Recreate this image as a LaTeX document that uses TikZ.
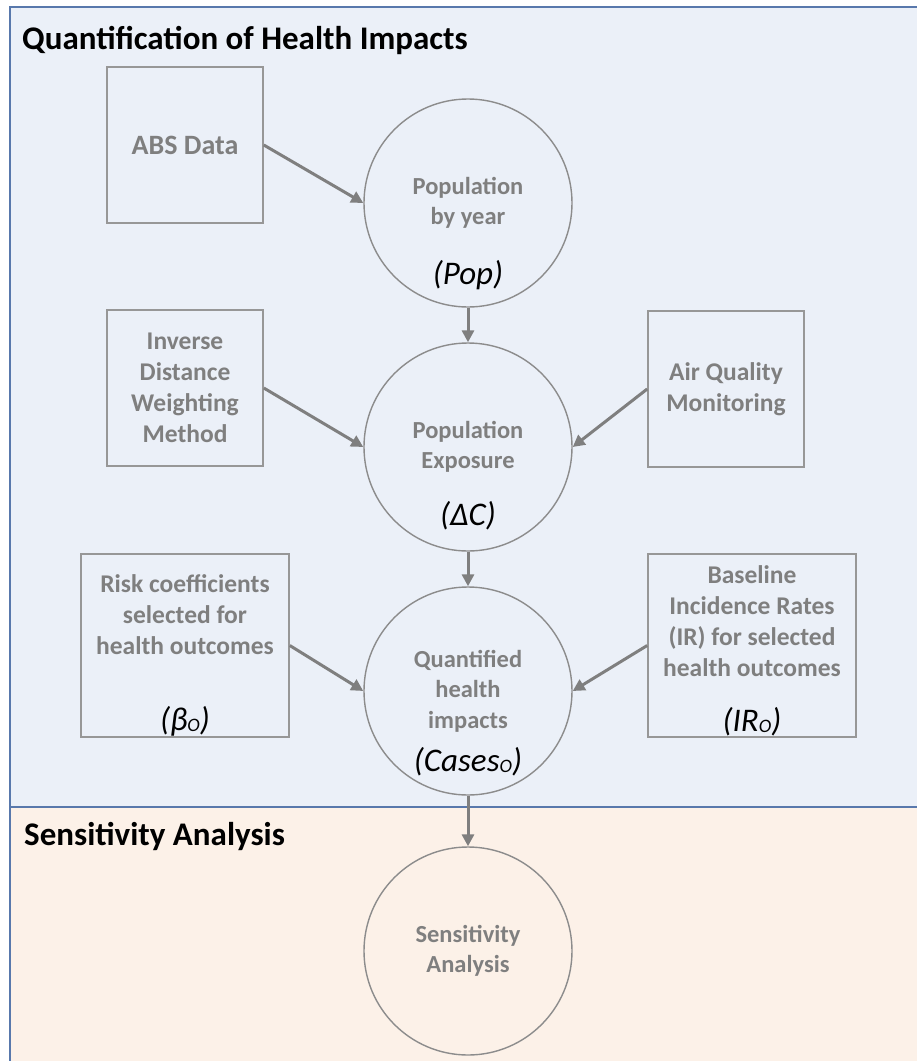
\documentclass[tikz,border=0pt]{standalone}
\usepackage{fontspec}
\setmainfont{Carlito}
\usetikzlibrary{arrows.meta}
\definecolor{panelblue}{HTML}{EBF0F8}
\definecolor{panelpeach}{HTML}{FCF1E8}
\definecolor{frameblue}{HTML}{5878AC}
\definecolor{shapegray}{HTML}{8C8C8C}
\definecolor{textgray}{HTML}{7F7F7F}
\begin{document}
\begin{tikzpicture}[x=1pt,y=-1pt,
  nodetext/.style={text=textgray, font=\bfseries\fontsize{24.5}{30.5}\selectfont, align=center, inner sep=0pt},
  box/.style={nodetext, font=\bfseries\fontsize{25.5}{31}\selectfont, draw=shapegray!90, line width=1.6pt, minimum width=156pt, minimum height=156pt},
  widebox/.style={box, minimum width=208pt, minimum height=183pt},
  bubble/.style={nodetext, circle, draw=shapegray, line width=1.4pt, minimum size=208pt},
  varlabel/.style={text=black, font=\itshape\fontsize{33}{38}\selectfont, inner sep=0pt},
  paneltitle/.style={text=black, font=\bfseries\fontsize{33}{40}\selectfont, inner sep=0pt, anchor=base west},
  flow/.style={draw=textgray, line width=3pt, -{Triangle[length=12pt,width=12pt]}}
]
\useasboundingbox (0,0) rectangle (917,1061);
% panels
\fill[panelblue] (10,7) rectangle (930,807);
\fill[panelpeach] (10,807) rectangle (930,1070);
\draw[frameblue, line width=2pt] (930,7) -- (10,7) -- (10,1070);
\draw[frameblue, line width=2.5pt] (10,807) -- (930,807);
% titles
\node[paneltitle] (t1) at (22,49) {Quantification of Health Impacts};
\node[paneltitle] (t2) at (24,845) {Sensitivity Analysis};
% nodes
\node[box, font=\bfseries\fontsize{28}{34}\selectfont] (abs) at (185,145) {ABS Data};
\node[bubble] (pop) at (468,203) {Population\\by year};
\node[varlabel] (popl) at (468,275) {(Pop)};
\node[box] (idw) at (185,388) {Inverse\\Distance\\Weighting\\Method};
\node[box] (aqm) at (726,389) {Air Quality\\Monitoring};
\node[bubble] (exp) at (468,447) {Population\\Exposure};
\node[varlabel] (expl) at (468,516) {(ΔC)};
\node[widebox] (risk) at (185,645.5) {Risk coefficients\\selected for\\health outcomes\\[30pt]\mbox{}};
\node[widebox] (base) at (752,645.5) {Baseline\\Incidence Rates\\(IR) for selected\\health outcomes\\[18pt]\mbox{}};
\node[bubble] (cases) at (468,691) {Quantified\\health\\impacts};
\node[varlabel] (riskl) at (185,721) {(β\raisebox{-1pt}{\fontsize{19}{19}\selectfont O})};
\node[varlabel] (basel) at (752,722) {(IR\raisebox{-1pt}{\fontsize{19}{19}\selectfont O})};
\node[varlabel] (casesl) at (468,762) {(Cases\raisebox{-1pt}{\fontsize{19}{19}\selectfont O})};
\node[bubble] (sens) at (468,951) {Sensitivity\\Analysis};
% connectors
\draw[flow] (abs.east) -- (pop.west);
\draw[flow] (pop.south) -- (exp.north);
\draw[flow] (idw.east) -- (exp.west);
\draw[flow] (aqm.west) -- (exp.east);
\draw[flow] (exp.south) -- (cases.north);
\draw[flow] (risk.east) -- (cases.west);
\draw[flow] (base.west) -- (cases.east);
\draw[flow] (cases.south) -- (sens.north);
\end{tikzpicture}
\end{document}
